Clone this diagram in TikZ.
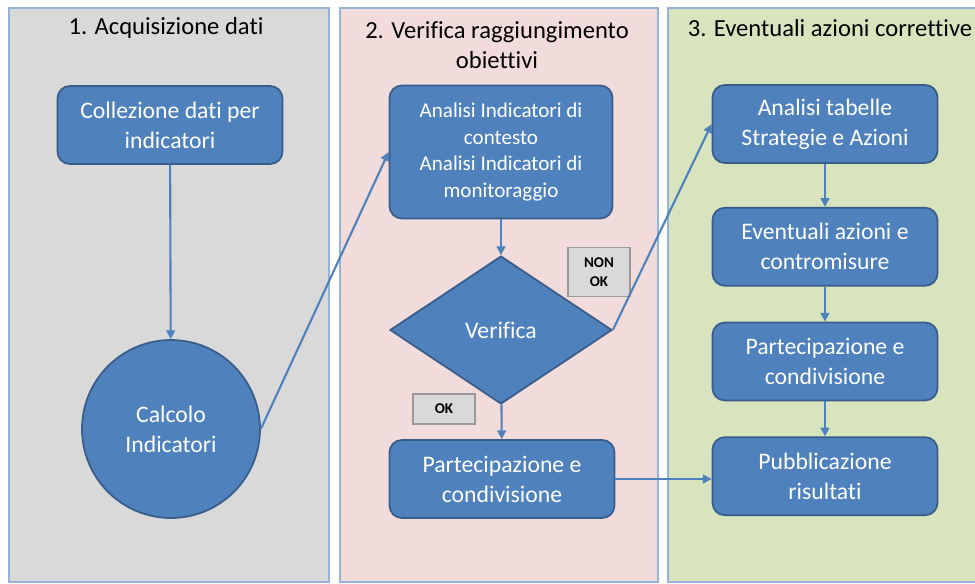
\documentclass[tikz,border=0pt]{standalone}
\usepackage{fontspec}
\setmainfont{Carlito}[RawFeature={-liga;-clig;-dlig;-calt}]
\usetikzlibrary{arrows.meta,positioning,shapes.geometric}
\tikzset{every picture/.style={line width=0.75pt}}
\definecolor{boxblue}{HTML}{4F81BD}
\definecolor{boxedge}{HTML}{385D8A}
\definecolor{laneedge}{HTML}{95B3D7}
\definecolor{lanegray}{HTML}{D9D9D9}
\definecolor{lanepink}{HTML}{F2DCDB}
\definecolor{lanegreen}{HTML}{D7E4BD}
\tikzset{
    lane/.style={draw=laneedge, line width=1.2pt},
    lanetitle/.style={font=\fontsize{14}{17}\selectfont, align=center},
    procbox/.style={rectangle, rounded corners=7pt, draw=boxedge, fill=boxblue,
        text=white, line width=1pt, align=center, minimum width=4.5cm,
        minimum height=1.56cm, font=\fontsize{13.5}{17}\selectfont},
    flow/.style={draw=boxblue, line width=1.2pt, -{Triangle[length=5pt,width=5pt]}},
    tagbox/.style={draw=gray!80, fill=lanegray, line width=0.6pt, align=center,
        minimum width=1.24cm, font=\bfseries\fontsize{8.5}{10.5}\selectfont},
}

\begin{document}
\begin{tikzpicture}[x=0.02cm, y=-0.02cm]
    \useasboundingbox (0,0) rectangle (975,583);
    \filldraw[lane, fill=lanegray] (9,8) rectangle (329,582);
    \filldraw[lane, fill=lanepink] (340,8) rectangle (658,582);
    \filldraw[lane, fill=lanegreen] (668,8) rectangle (990,582);

    \node[lanetitle] (t1) at (166,28) {1. Acquisizione dati};
    \node[lanetitle] (t2) at (497,45) {2. Verifica raggiungimento\\obiettivi};
    \node[lanetitle] (t3) at (830,28) {3. Eventuali azioni correttive};

    \node[procbox] (coll) at (170,125) {Collezione dati per\\indicatori};
    \node[procbox, circle, minimum size=3.56cm] (calc) at (171,429) {Calcolo\\Indicatori};

    \node[procbox, minimum width=4.46cm, minimum height=2.66cm,
        font=\fontsize{12}{15}\selectfont] (anal) at (501,152)
        {Analisi Indicatori di\\contesto\\Analisi Indicatori di\\monitoraggio};
    \node[procbox, diamond, sharp corners, minimum width=4.44cm, minimum height=2.96cm,
        inner sep=0pt] (verif) at (501,330) {Verifica};
    \node[procbox] (part) at (502,479) {Partecipazione e\\condivisione};
    \node[tagbox, minimum height=0.6cm] (ok) at (444,409) {OK};
    \node[tagbox, minimum height=0.98cm] (nonok) at (599,272) {NON\\OK};

    \node[procbox] (tab) at (825,124) {Analisi tabelle\\Strategie e Azioni};
    \node[procbox, below=0.86cm of tab] (azioni) {Eventuali azioni e\\contromisure};
    \node[procbox, below=0.7cm of azioni] (cond) {Partecipazione e\\condivisione};
    \node[procbox, below=0.7cm of cond] (pubb) {Pubblicazione\\risultati};

    \draw[flow] (coll) -- (calc);
    \draw[flow] (calc.east) -- (anal.west);
    \draw[flow] (anal) -- (verif);
    \draw[flow] (verif) -- (part);
    \draw[flow] (verif.east) -- (tab.west);
    \draw[flow] (part.east) -- (part.east -| pubb.west);
    \draw[flow] (tab) -- (azioni);
    \draw[flow] (azioni) -- (cond);
    \draw[flow] (cond) -- (pubb);
\end{tikzpicture}
\end{document}
